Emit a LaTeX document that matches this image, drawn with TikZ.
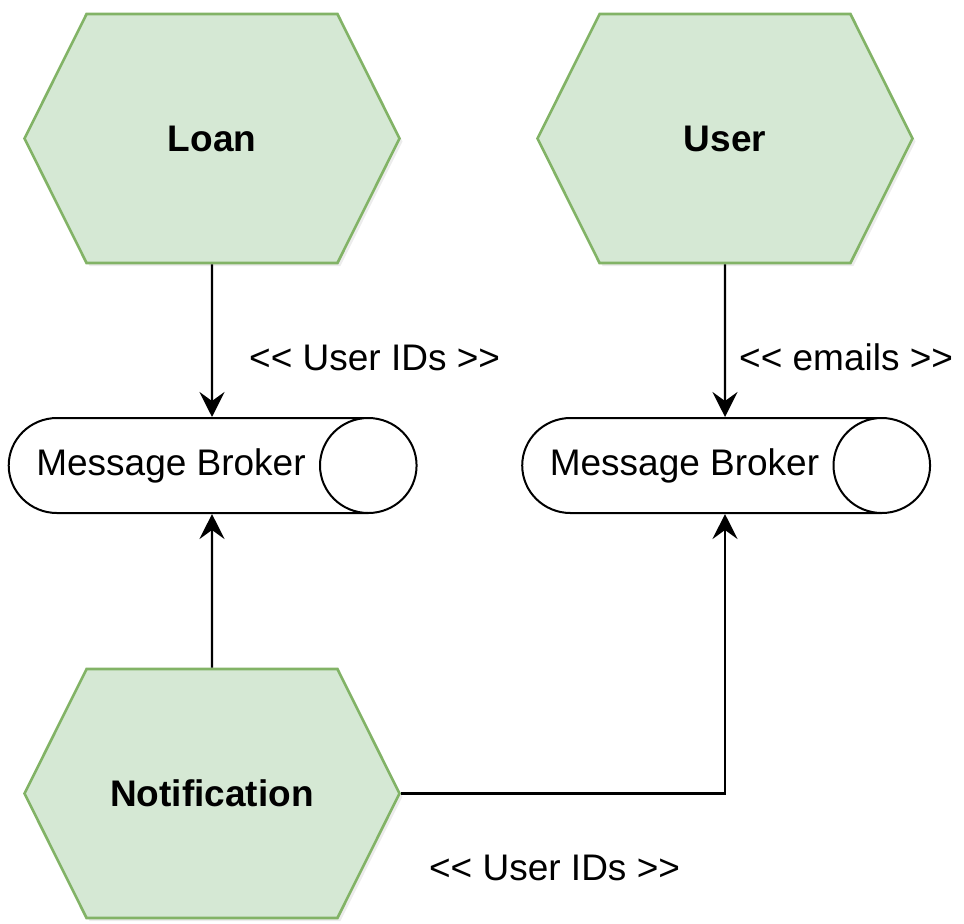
\documentclass[tikz,border=0pt]{standalone}
\usepackage{fontspec}
\setmainfont{Liberation Sans}
\usetikzlibrary{arrows.meta,positioning,shapes.symbols,shapes.geometric,shadows}

\definecolor{hexfill}{HTML}{D5E8D4}
\definecolor{hexline}{HTML}{82B366}

\tikzset{
  service/.style={shape=signal, signal to=west and east, signal pointer angle=127,
    minimum width=187.5pt, minimum height=124.5pt, inner sep=0pt,
    fill=hexfill, draw=hexline, line width=1.3pt,
    drop shadow={shadow xshift=1.5pt, shadow yshift=-1.5pt, opacity=0.15},
    font=\bfseries\fontsize{18.5}{22}\selectfont},
  broker/.style={shape=cylinder, aspect=2.8, minimum width=47.5pt, minimum height=200pt,
    inner sep=0pt, draw, line width=1pt, font=\fontsize{18.5}{22}\selectfont},
  flow/.style={line width=1.2pt, -{Stealth[length=12.5pt,width=12.5pt,inset=4.5pt]}},
  lbl/.style={inner sep=0pt, font=\fontsize{18.5}{22}\selectfont}
}

\begin{document}
\begin{tikzpicture}[x=0.5pt,y=-0.5pt]
\useasboundingbox (0,0) rectangle (964,923);

% services
\node[service] (loan) at (212,138.5) {Loan};
\node[service] (user) at (725,138.5) {User};
\node[service] (notif) at (212,793.5) {Notification};

% brokers
\node[broker] (lbroker) at (188,465.5) {\makebox[131pt]{\hspace*{-17pt}Message Broker}};
\node[broker] (rbroker) at (701.5,465.5) {\makebox[131pt]{\hspace*{-17pt}Message Broker}};

% flows
\draw[flow] (loan) -- node[lbl, pos=0.61, right=18pt] {<{}< User IDs >{}>} (loan |- lbroker.north);
\draw[flow] (user) -- node[lbl, pos=0.61, right=6.5pt] {<{}< emails >{}>} (user |- rbroker.north);
\draw[flow] (notif) -- (notif |- lbroker.south);
\draw[flow] (notif) -| node[lbl, pos=0.237, below=30pt] {<{}< User IDs >{}>} (user |- rbroker.south);

\end{tikzpicture}
\end{document}
